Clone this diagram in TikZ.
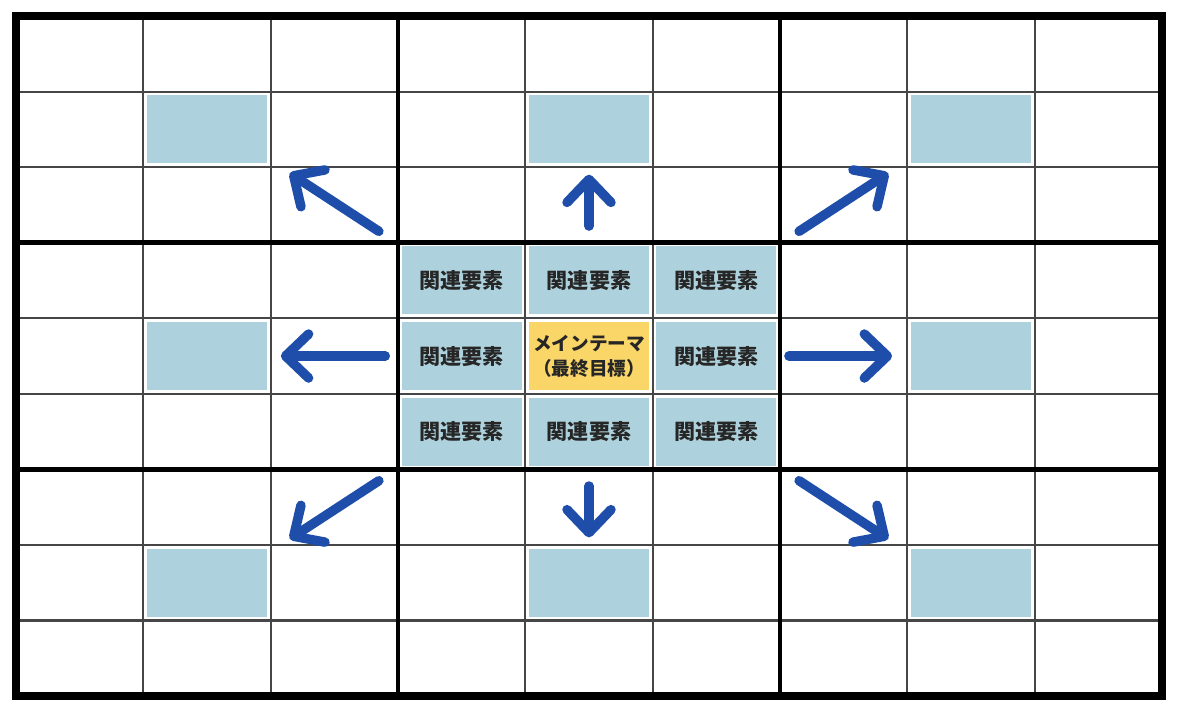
\documentclass[tikz,border=0pt]{standalone}
\usepackage{fontspec}
\newfontfamily\jp{Noto Sans CJK JP}
\usetikzlibrary{arrows.meta}
\definecolor{CellBlue}{RGB}{173,210,221}
\definecolor{ThemeYellow}{RGB}{250,214,104}
\definecolor{ArrowBlue}{RGB}{31,78,170}
\definecolor{GridGray}{RGB}{70,70,70}

\begin{document}
\begin{tikzpicture}[x=1.2733cm,y=0.7556cm,>={Straight Barb[round,length=2.3mm,width=4.4mm]},
  elem/.style={font=\jp\bfseries\fontsize{6}{7.4}\selectfont,text=black!85,align=center},
  pointer/.style={->,ArrowBlue,line width=2.7pt,line cap=round,line join=round}]
\useasboundingbox ([shift={(-0.16cm,-0.16cm)}]0,0) rectangle ([shift={(0.2cm,0.16cm)}]9,9);
% sub-theme cells
\foreach \i/\j in {1/1,4/1,7/1,1/4,7/4,1/7,4/7,7/7}
  \fill[CellBlue] (\i+0.03,\j+0.05) rectangle (\i+0.97,\j+0.95);
\foreach \i in {3,4,5}{\foreach \j in {3,4,5}
  {\fill[CellBlue] (\i+0.03,\j+0.05) rectangle (\i+0.97,\j+0.95);}}
\fill[ThemeYellow] (4.03,4.05) rectangle (4.97,4.95);
% grid
\foreach \k in {1,2,4,5,7,8}{\draw[GridGray,line width=0.6pt] (\k,0)--(\k,9); \draw[GridGray,line width=0.6pt] (0,\k)--(9,\k);}
\foreach \k in {3,6}{\draw[line width=1.4pt] (\k,0)--(\k,9); \draw[line width=1.4pt] (0,\k)--(9,\k);}
\draw[line width=2.3pt] (0,0) rectangle (9,9);
% texts
\node[elem,font=\jp\bfseries\fontsize{5.3}{7}\selectfont] (theme) at (4.5,4.5){メインテーマ\\（最終目標）};
\node[elem] (nw) at (3.5,5.5){関連要素};\node[elem] (n) at (4.5,5.5){関連要素};\node[elem] (ne) at (5.5,5.5){関連要素};
\node[elem] (w) at (3.5,4.5){関連要素};\node[elem] (e) at (5.5,4.5){関連要素};
\node[elem] (sw) at (3.5,3.5){関連要素};\node[elem] (s) at (4.5,3.5){関連要素};\node[elem] (se) at (5.5,3.5){関連要素};
% arrows
\coordinate (nwA) at (2.85,6.15); \coordinate (nwB) at (2.15,6.92);
\coordinate (nA) at (4.5,6.22); \coordinate (nB) at (4.5,6.9);
\coordinate (neA) at (6.15,6.15); \coordinate (neB) at (6.85,6.92);
\coordinate (wA) at (2.9,4.5); \coordinate (wB) at (2.08,4.5);
\coordinate (eA) at (6.07,4.5); \coordinate (eB) at (6.88,4.5);
\coordinate (swA) at (2.85,2.85); \coordinate (swB) at (2.15,2.08);
\coordinate (sA) at (4.5,2.78); \coordinate (sB) at (4.5,2.1);
\coordinate (seA) at (6.15,2.85); \coordinate (seB) at (6.85,2.08);
\foreach \d in {nw,n,ne,w,e,sw,s,se}\draw[pointer] (\d A)--(\d B);
\end{tikzpicture}
\end{document}
